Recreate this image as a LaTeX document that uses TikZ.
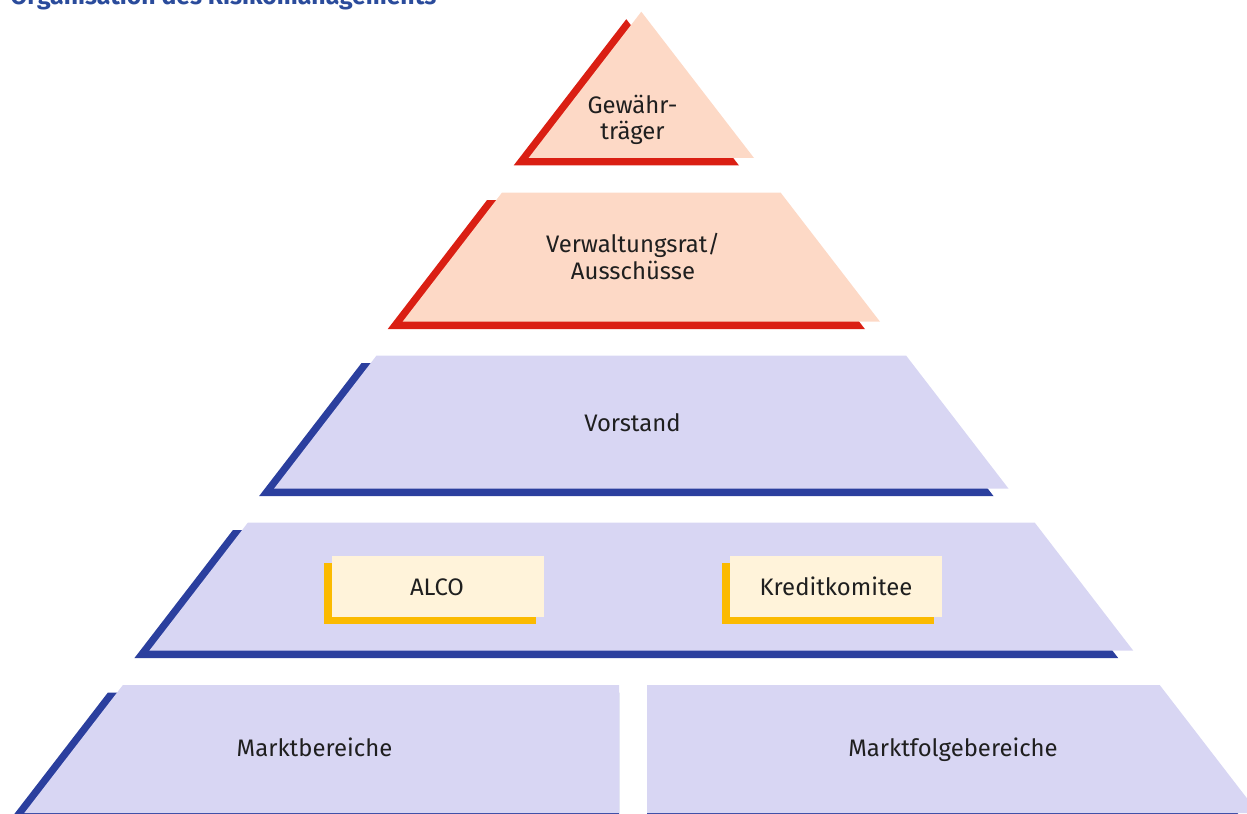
\documentclass[tikz,border=0pt]{standalone}
\usepackage{fontspec}
\setmainfont{Fira Sans}
\usepackage{xcolor}
\usepackage{tikz}
\definecolor{shred}{HTML}{DA1F13}
\definecolor{peach}{HTML}{FDD9C6}
\definecolor{shblue}{HTML}{2B3F9E}
\definecolor{lavender}{HTML}{D8D6F3}
\definecolor{shyellow}{HTML}{FBBA00}
\definecolor{cream}{HTML}{FFF3DA}
\definecolor{titleblue}{HTML}{2A4B9B}
\definecolor{ink}{HTML}{1F1F1F}
\tikzset{
  lbl/.style={text=ink,font=\fontsize{13.6}{15.1}\selectfont,align=center,anchor=base,inner sep=0pt},
  redshadow/.style={fill=shred},
  redlayer/.style={fill=peach},
  blueshadow/.style={fill=shblue},
  bluelayer/.style={fill=lavender},
  boxshadow/.style={fill=shyellow},
  boxfill/.style={fill=cream}
}

\begin{document}
\begin{tikzpicture}[x=0.02cm,y=-0.02cm]
      \useasboundingbox (0,0) rectangle (1247,814);
      \node[anchor=base west,inner sep=0pt,text=titleblue,font=\fontsize{14.1}{15}\selectfont\bfseries] (title) at (10,4.5) {Organisation des Risikomanagements};

      % Gewaehrtraeger
      \fill[redshadow] (626.3,19.2)--(739,165.5)--(513.6,165.5)--cycle;
      \fill[redlayer] (641.3,11.7)--(754,158)--(528.6,158)--cycle;
      \node[lbl] (gewaehr) at (632.5,140) {Gewähr-\\träger};

      % Verwaltungsrat
      \fill[redshadow] (486.9,200.2)--(765.7,200.2)--(865,329.2)--(387.6,329.2)--cycle;
      \fill[redlayer] (501.9,192.7)--(780.7,192.7)--(880,321.7)--(402.6,321.7)--cycle;
      \node[lbl] (vrat) at (633,279.3) {Verwaltungsrat/\\Ausschüsse};

      % Vorstand
      \fill[blueshadow] (361.4,363.2)--(891.2,363.2)--(993.6,496.2)--(259,496.2)--cycle;
      \fill[bluelayer] (376.4,355.7)--(906.2,355.7)--(1008.6,488.7)--(274,488.7)--cycle;
      \node[lbl] (vorstand) at (632.5,431) {Vorstand};

      % Komitees
      \fill[blueshadow] (232.8,530.2)--(1019.8,530.2)--(1118.3,658.2)--(134.3,658.2)--cycle;
      \fill[bluelayer] (247.8,522.7)--(1034.8,522.7)--(1133.3,650.7)--(149.3,650.7)--cycle;
      \fill[boxshadow] (324,563.3) rectangle (536,623.7);
      \fill[boxfill] (332,555.7) rectangle (544,616.7);
      \node[lbl] (alco) at (437,595.3) {ALCO};
      \fill[boxshadow] (722,563.3) rectangle (934,623.7);
      \fill[boxfill] (730,555.7) rectangle (942,616.7);
      \node[lbl] (kredit) at (836,595.3) {Kreditkomitee};

      % Bereiche
      \fill[blueshadow] (107.9,692.5)--(619,692.5)--(619,820.5)--(9.3,820.5)--cycle;
      \fill[bluelayer] (122.9,685)--(619,685)--(619,813)--(24.3,813)--cycle;
      \node[lbl] (markt) at (314.5,756.5) {Marktbereiche};
      \fill[blueshadow] (647,692.5)--(1144.7,692.5)--(1243.3,820.5)--(647,820.5)--cycle;
      \fill[bluelayer] (647,685)--(1159.7,685)--(1258.3,813)--(647,813)--cycle;
      \node[lbl] (folge) at (953,756.5) {Marktfolgebereiche};
\end{tikzpicture}
\end{document}
